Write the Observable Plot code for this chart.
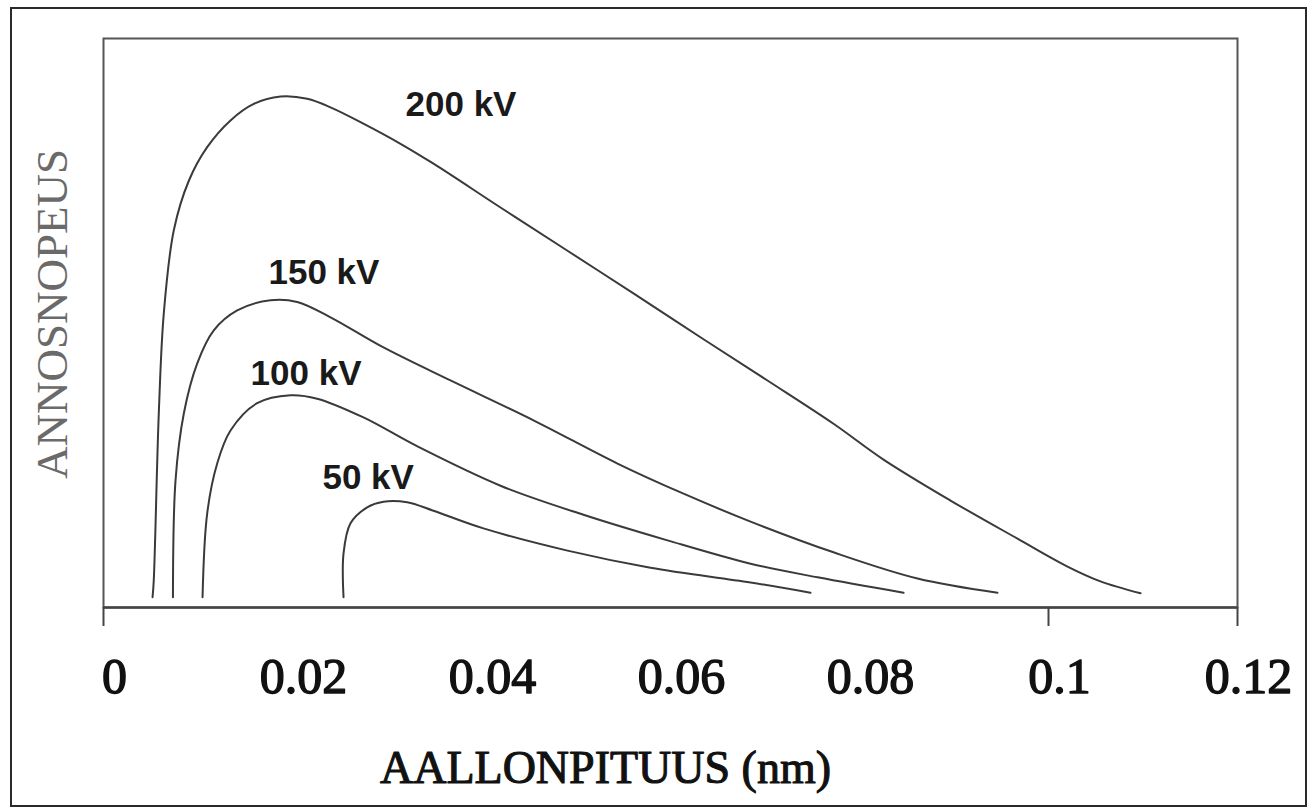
<!DOCTYPE html>
<html>
<head>
<meta charset="utf-8">
<script src="https://cdn.jsdelivr.net/npm/d3@7"></script>
<script src="https://cdn.jsdelivr.net/npm/@observablehq/plot@0.6"></script>
<style>
  html, body { margin: 0; padding: 0; background: #fff; }
  #wrap { position: relative; width: 1312px; height: 807px; overflow: hidden; }
  #outer { position: absolute; left: 10px; top: 7px; width: 1297px; height: 800px; border: 2.5px solid #2a2a2a; box-sizing: border-box; pointer-events: none; }
  #chart { position: absolute; left: 0; top: 0; }
</style>
</head>
<body>
<div id="wrap"><div id="chart"></div><div id="outer"></div></div>
<script>
// Series: wavelength (nm) and relative intensity for each tube voltage
const x200 = [0.00519,0.00532,0.00585,0.00638,0.00744,0.00903,0.01097,0.01344,0.01590,0.01873,0.02156,0.02402,0.02755,0.03143,0.03492,0.04201,0.04910,0.05608,0.06317,0.07026,0.07725,0.08254,0.08963,0.09672,0.10201,0.10550,0.10974];
const y200 = [1.8,4.8,34.1,51.7,66.3,75.0,80.9,85.6,88.5,89.8,89.4,87.9,85.0,81.5,78.0,70.3,62.7,55.2,47.5,39.9,32.3,26.0,18.8,12.1,7.2,4.6,2.5];

const x150 = [0.00735,0.00762,0.00850,0.00992,0.01167,0.01415,0.01767,0.02050,0.02402,0.02963,0.03672,0.04550,0.05439,0.06138,0.06847,0.07725,0.08614,0.09460];
const y150 = [1.8,22.3,34.1,42.9,48.7,52.2,54.0,53.7,51.0,45.7,39.9,32.9,25.3,20.0,15.1,9.7,5.1,2.6];

const x100 = [0.01048,0.01097,0.01203,0.01344,0.01626,0.01979,0.02261,0.02751,0.03323,0.04201,0.05079,0.05968,0.06847,0.07556,0.08466];
const y100 = [1.8,16.5,25.3,31.1,35.9,37.3,36.7,33.4,28.3,21.4,16.3,11.8,7.7,5.3,2.6];

const x50 = [0.02540,0.02540,0.02614,0.02790,0.02963,0.03214,0.03492,0.04021,0.04910,0.05788,0.06847,0.07481];
const y50 = [1.8,9.5,14.8,17.6,18.6,18.5,17.0,13.9,10.0,7.0,4.4,2.6];

// Curve labels
const labelNames = ["200 kV", "150 kV", "100 kV", "50 kV"];
const labelX = [0.03196, 0.01746, 0.01556, 0.02317];
const labelY = [88.3, 58.8, 41.0, 22.8];

// Axis ticks
const tickLabels = [0, 0.02, 0.04, 0.06, 0.08, 0.1, 0.12];
const tickMarks = [0, 0.1, 0.12];
const xTitle = "AALLONPITUUS (nm)";
const yTitle = "ANNOSNOPEUS";

const seriesDefs = [["200 kV", x200, y200], ["150 kV", x150, y150], ["100 kV", x100, y100], ["50 kV", x50, y50]];
const rows = seriesDefs.flatMap(([s, xs, ys]) => xs.map((x, i) => ({series: s, x, y: ys[i]})));
const labels = labelNames.map((t, i) => ({t, x: labelX[i], y: labelY[i]}));

const serif = "'Liberation Serif', 'DejaVu Serif', serif";

const chart = Plot.plot({
  width: 1312,
  height: 807,
  marginLeft: 103,
  marginRight: 75,
  marginTop: 38,
  marginBottom: 200,
  style: {background: "transparent", fontFamily: serif, color: "#111"},
  x: {domain: [0, 0.12]},
  y: {domain: [0, 100]},
  marks: [
    Plot.frame({stroke: "#555", strokeWidth: 2}),
    Plot.ruleY([0], {stroke: "#444", strokeWidth: 2.5}),
    Plot.axisX({ticks: tickMarks, tickSize: 19, fill: "none", stroke: "#444", strokeWidth: 2, label: null}),
    Plot.axisX({ticks: tickLabels, tickSize: 0, tickPadding: 50, dx: 11, fontSize: 50, fontFamily: serif,
      tickFormat: d => String(d), fill: "#111", label: null,
      textStroke: "#111", textStrokeWidth: 1.4}),
    Plot.axisY({ticks: [], label: null}),
    Plot.line(rows, {x: "x", y: "y", z: "series", stroke: "#3a3a3a", strokeWidth: 2, curve: "catmull-rom"}),
    Plot.text(labels, {x: "x", y: "y", text: "t", textAnchor: "start", lineAnchor: "middle",
      fontSize: 35, fontWeight: "bold", fontFamily: "'Liberation Sans', Arial, sans-serif", fill: "#1a1a1a"}),
    Plot.text([xTitle], {frameAnchor: "bottom", dx: -65, dy: 161, lineAnchor: "middle", fontSize: 46,
      fontFamily: serif, fill: "#111", stroke: "#111", strokeWidth: 1.1}),
    Plot.text([yTitle], {frameAnchor: "left", dx: -51, dy: -9, rotate: -90, textAnchor: "middle", lineAnchor: "middle", fontSize: 45,
      fontFamily: serif, fill: "#6a6a6a"})
  ]
});
document.getElementById("chart").append(chart);
</script>
</body>
</html>
